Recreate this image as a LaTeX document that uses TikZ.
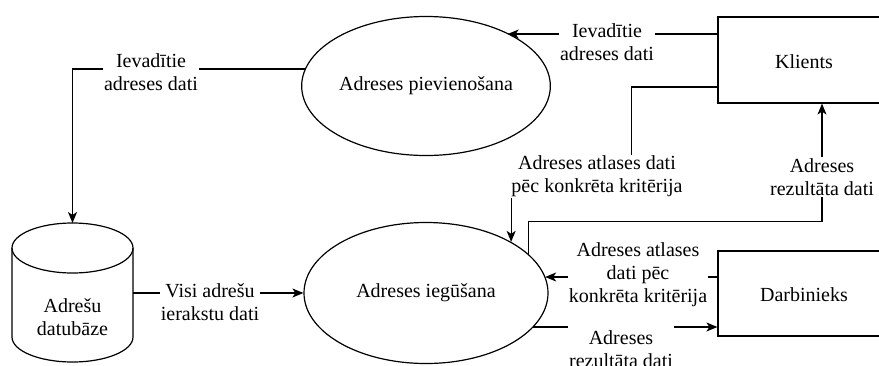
\documentclass[tikz,border=0pt]{standalone}
\usepackage{fontspec}
\setmainfont{Liberation Serif}
\usetikzlibrary{shapes.geometric,arrows.meta,calc}
\begin{document}
\begin{tikzpicture}[x=1pt,y=-1pt,
  every node/.style={font=\fontsize{20}{23}\selectfont, align=center, inner sep=1pt},
  proc/.style={ellipse, draw, line width=1.2pt, minimum width=244pt, minimum height=139pt},
  ent/.style={rectangle, draw, line width=1.2pt, minimum width=208pt, minimum height=86pt},
  flow/.style={line width=1.2pt},
  arr/.style={flow, -{Stealth[length=11pt,width=9pt,inset=3pt]}},
  lbl/.style={fill=white}]
\useasboundingbox (0,0) rectangle (879,365);
\clip (0,0) rectangle (879,365);
% nodes
\node[proc] (pv) at (426,86) {Adreses pievienošana};
\node[proc, minimum height=141pt] (ig) at (426,293) {Adreses iegūšana};
\node[ent] (kl) at (822,60) {};
\node at (804,62) {Klients};
\node[ent, minimum height=85pt] (da) at (822,293.5) {};
\node at (804,295) {Darbinieks};
% data store (cylinder)
\draw[line width=1.2pt] (12,248) -- (12,337) arc[start angle=180,end angle=360,x radius=60.5pt,y radius=25pt] -- (133,248);
\draw[line width=1.2pt] (72.5,248) ellipse [x radius=60.5pt, y radius=25pt];
\node (db) at (72.5,317) {Adrešu\\datubāze};
\coordinate (dbtop) at (72.5,223);
\coordinate (dbr) at (133,293);
% connection points
\coordinate (k1) at ([yshift=26pt]kl.west);
\coordinate (k2) at ([yshift=-27pt]kl.west);
\coordinate (d1) at ([yshift=16.5pt]da.west);
\coordinate (d2) at ([yshift=-33.5pt]da.west);
% connectors
\draw[arr] (k1) -- (k1 -| pv.33);
\draw[arr] (pv.172) -| (dbtop);
\draw[arr] (k2) -- ++(-86,0) -- ++(0,90) -| (ig.31);
\draw[arr] (ig.21) -- ++(0,-32) -| (kl.south);
\draw[arr] (d1) -- (d1 -| ig.8);
\draw[arr] (d2 -| ig.342) -- (d2);
\draw[arr] (dbr) -- (ig.west);
% labels
\node[lbl] at (607,42.5) {Ievadītie\\adreses dati};
\node[lbl] at (151,72.5) {Ievadītie\\adreses dati};
\node[lbl] at (597,176.5) {Adreses atlases dati\\pēc konkrēta kritērija};
\node[lbl] at (822,177) {Adreses\\rezultāta dati};
\node[lbl] at (638,275) {Adreses atlases\\dati pēc\\konkrēta kritērija};
\node[lbl, inner ysep=6pt] at (621,349.5) {Adreses\\rezultāta dati};
\node[lbl] at (210,302.5) {Visi adrešu\\ierakstu dati};
\end{tikzpicture}
\end{document}
